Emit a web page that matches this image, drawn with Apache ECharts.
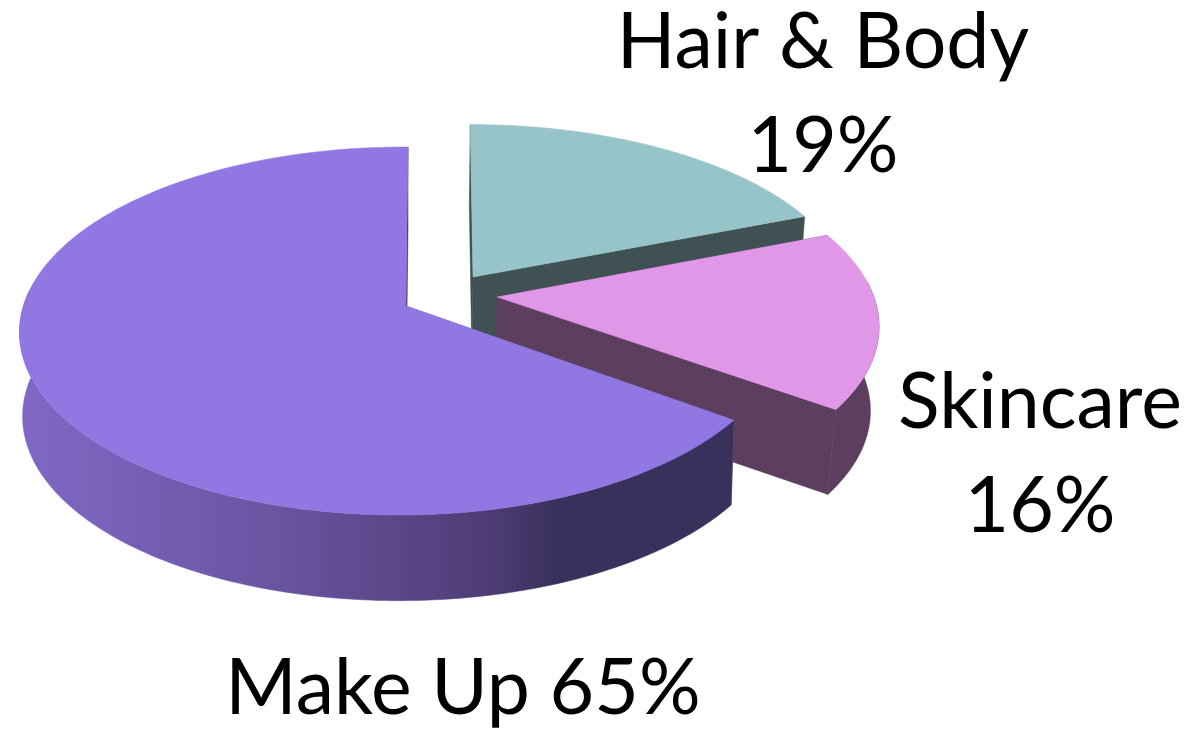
<!DOCTYPE html>
<html><head><meta charset="utf-8">
<style>html,body{margin:0;padding:0;background:#fff}#c{width:1192px;height:735px}</style>
<script src="https://cdn.jsdelivr.net/npm/echarts@6/dist/echarts.min.js"></script>
</head><body><div id="c"></div>
<script>
// Data, clockwise from 12 o'clock
const categories = ['Hair & Body', 'Skincare', 'Make Up'];
const values = [19, 16, 65];
// Styles
const topColors = ['#96c4c8', '#e197e8', '#9177e1'];
const sideColors = ['#3f5153', '#5c3f5e', '#7f68c4'];
const labelSeparators = ['\n', '\n', ' '];
const labelAnchors = [[823, 95], [1040, 455], [463, 689]];
const fontSize = 77;
// Explosion offset of each slice, disc-radius units
const explodeX = [0.1762, 0.2386, 0];
const explodeZ = [0.164, 0.05, 0];
// View tweaks per slice
const sliceSkew = [5, 1, 2];
const sliceTilt = [0, 0.01, 0.012];
const topScale = [384, 385, 378];
const botScale = [378, 378, 375];
// Perspective view of the disc: top plane, bottom plane
const topPlane = {cx: 406, y0: 306, b: 180.6};
const botPlane = {cx: 406, y0: 390, b: 182};
const persp = 0.136;
const wallFrom = 85 * Math.PI / 180, wallTo = 275 * Math.PI / 180;

function project(pl, scale, i, X, Z) {
  const w = 1 + persp * Z + sliceTilt[i] * X;
  return [pl.cx + scale[i] * X / w + sliceSkew[i] * Z, pl.y0 - pl.b * Z / w];
}
const total = values.reduce((s, v) => s + v, 0);

function arc(pl, scale, i, a0, a1) {
  const pts = [], n = 140;
  for (let k = 0; k <= n; k++) {
    const t = a0 + (a1 - a0) * k / n;
    pts.push(project(pl, scale, i, explodeX[i] + Math.sin(t), explodeZ[i] + Math.cos(t)));
  }
  return pts;
}
function poly(points, fill, z2) {
  return {type: 'polygon', z2, shape: {points},
    style: {fill, stroke: fill, lineWidth: 0.5}, silent: true};
}
function renderItem(params, api) {
  const i = params.dataIndex;
  let before = 0;
  for (let k = 0; k < i; k++) before += values[k];
  const a0 = before / total * Math.PI * 2;
  const a1 = (before + api.value(0)) / total * Math.PI * 2;
  const tTop = project(topPlane, topScale, i, explodeX[i], explodeZ[i]);
  const tBot = project(botPlane, botScale, i, explodeX[i], explodeZ[i]);
  const topArc = arc(topPlane, topScale, i, a0, a1);
  const botArc = arc(botPlane, botScale, i, a0, a1);
  const z = i * 10;
  const children = [
    poly([tTop, topArc[0], botArc[0], tBot], i === 2 ? '#7a64c8' : sideColors[i], z),
    poly([tTop, topArc[topArc.length - 1], botArc[botArc.length - 1], tBot],
      i === 2 ? '#3a305c' : sideColors[i], z + 2),
    poly([tTop].concat(topArc), topColors[i], z + 3),
    {type: 'text', z2: 100, silent: true, style: {
      x: labelAnchors[i][0], y: labelAnchors[i][1],
      text: categories[i] + labelSeparators[i] + Math.round(api.value(0) / total * 100) + '%',
      font: fontSize + 'px Lato, Carlito, sans-serif',
      fill: '#000', align: 'center', verticalAlign: 'middle', lineHeight: 104
    }}
  ];
  const w0 = Math.max(a0, wallFrom), w1 = Math.min(a1, wallTo);
  if (w1 > w0) {
    const wt = arc(topPlane, topScale, i, w0, w1), wb = arc(botPlane, botScale, i, w0, w1);
    const wallFill = i !== 2 ? sideColors[i] : new echarts.graphic.LinearGradient(0, 0, 1, 0, [
      {offset: 0, color: '#8069c6'},
      {offset: 0.35, color: '#6a55a2'},
      {offset: 0.65, color: '#4f3d76'},
      {offset: 0.75, color: '#3a305c'},
      {offset: 1, color: '#3a305c'}
    ]);
    children.push(poly(wt.concat(wb.slice().reverse()), wallFill, z + 1));
  }
  return {type: 'group', children};
}
const chart = echarts.init(document.getElementById('c'), null, {renderer: 'canvas'});
chart.setOption({
  animation: false,
  backgroundColor: '#fff',
  series: [{
    type: 'custom',
    coordinateSystem: 'none',
    renderItem,
    data: values.map((v, i) => ({name: categories[i], value: [v]}))
  }]
});
</script></body></html>
